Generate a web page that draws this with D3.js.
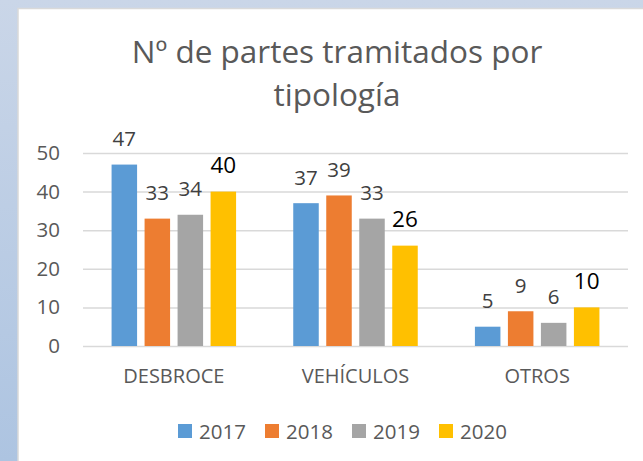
<!DOCTYPE html>
<html>
<head>
<meta charset="utf-8">
<script src="https://cdn.jsdelivr.net/npm/d3@7"></script>
<style>
  body { margin: 0; background: #c9d6e8; }
  #chart { position: absolute; left: 0; top: 0; }
</style>
</head>
<body>
<div id="chart"></div>
<script>
// Set the SVG dimensions
var svgWidth = 643;
var svgHeight = 461;

// Set SVG margins
var margin = {
    top: 153,
    right: 15,
    bottom: 115,
    left: 83
};

var width = svgWidth - margin.left - margin.right;
var height = svgHeight - margin.top - margin.bottom;

var fontFamily = "'Open Sans', Lato, sans-serif";
var textColor = "#595959";

// chart data
var categories = ["DESBROCE", "VEHÍCULOS", "OTROS"];
var years = ["2017", "2018", "2019", "2020"];
var colors = {
    "2017": "#5b9bd5",
    "2018": "#ed7d31",
    "2019": "#a5a5a5",
    "2020": "#ffc000"
};
var partesData = [
    { tipo: "DESBROCE", "2017": 47, "2018": 33, "2019": 34, "2020": 40 },
    { tipo: "VEHÍCULOS", "2017": 37, "2018": 39, "2019": 33, "2020": 26 },
    { tipo: "OTROS", "2017": 5, "2018": 9, "2019": 6, "2020": 10 }
];

var svg = d3
    .select("#chart")
    .append("svg")
    .attr("width", svgWidth)
    .attr("height", svgHeight);

// background frame
var defs = svg.append("defs");
var grad = defs.append("linearGradient")
    .attr("id", "bgGrad")
    .attr("x1", 0).attr("y1", 0).attr("x2", 0).attr("y2", 1);
grad.append("stop").attr("offset", "0%").attr("stop-color", "#cad6e8");
grad.append("stop").attr("offset", "100%").attr("stop-color", "#adc4e1");

svg.append("rect")
    .attr("width", svgWidth)
    .attr("height", svgHeight)
    .attr("fill", "url(#bgGrad)");

svg.append("rect")
    .attr("x", 18)
    .attr("y", 8.5)
    .attr("width", svgWidth)
    .attr("height", svgHeight)
    .attr("fill", "#ffffff")
    .attr("stroke", "#d9d9d9")
    .attr("stroke-width", 1.5);

// title
var title = svg.append("text")
    .attr("text-anchor", "middle")
    .attr("font-family", fontFamily)
    .attr("font-size", "31.5px")
    .attr("fill", textColor);
title.append("tspan").attr("x", 337).attr("y", 63).text("Nº de partes tramitados por");
title.append("tspan").attr("x", 337).attr("y", 106).text("tipología");

var chartGroup = svg.append("g")
    .attr("transform", `translate(${margin.left}, ${margin.top})`);

var x0 = d3.scaleBand()
    .domain(categories)
    .range([0, width]);

var x1 = d3.scaleBand()
    .domain(years)
    .range([0, x0.bandwidth()])
    .paddingInner(0.227)
    .paddingOuter(0.866);

var yLinearScale = d3.scaleLinear()
    .domain([0, 50])
    .range([height, 0]);

// gridlines
var leftAxis = d3.axisLeft(yLinearScale)
    .tickValues([0, 10, 20, 30, 40, 50])
    .tickSize(-width)
    .tickPadding(23);

var yAxis = chartGroup.append("g")
    .call(leftAxis);
yAxis.select(".domain").remove();
yAxis.selectAll("line")
    .attr("stroke", "#d9d9d9")
    .attr("stroke-width", 1.5);
yAxis.selectAll("text")
    .attr("font-family", fontFamily)
    .attr("font-size", "20.5px")
    .attr("fill", textColor);

// category labels
var bottomAxis = d3.axisBottom(x0).tickSize(0).tickPadding(23);
var xAxis = chartGroup.append("g")
    .attr("transform", `translate(0, ${height})`)
    .call(bottomAxis);
xAxis.select(".domain").remove();
xAxis.selectAll("text")
    .attr("font-family", fontFamily)
    .attr("font-size", "20px")
    .attr("fill", textColor);

// bars
var groups = chartGroup.selectAll(".grupo")
    .data(partesData)
    .enter()
    .append("g")
    .attr("class", "grupo")
    .attr("transform", d => `translate(${x0(d.tipo)}, 0)`);

groups.selectAll("rect")
    .data(d => years.map(y => ({ year: y, value: d[y] })))
    .enter()
    .append("rect")
    .attr("x", d => x1(d.year))
    .attr("y", d => yLinearScale(d.value))
    .attr("width", x1.bandwidth())
    .attr("height", d => height - yLinearScale(d.value))
    .attr("fill", d => colors[d.year]);

// value labels
groups.selectAll(".valor")
    .data(d => years.map(y => ({ year: y, value: d[y] })))
    .enter()
    .append("text")
    .attr("class", "valor")
    .attr("x", d => x1(d.year) + x1.bandwidth() / 2)
    .attr("y", d => yLinearScale(d.value) - 18.5)
    .attr("text-anchor", "middle")
    .attr("font-family", fontFamily)
    .attr("font-size", d => d.year === "2020" ? "22.5px" : "20.5px")
    .attr("fill", d => d.year === "2020" ? "#000000" : "#404040")
    .text(d => d.value);

// legend
var legend = svg.append("g")
    .attr("transform", "translate(178, 424)");

var legendItems = legend.selectAll("g")
    .data(years)
    .enter()
    .append("g")
    .attr("transform", (d, i) => `translate(${i * 87}, 0)`);

legendItems.append("rect")
    .attr("width", 14)
    .attr("height", 14)
    .attr("fill", d => colors[d]);

legendItems.append("text")
    .attr("x", 21)
    .attr("y", 15)
    .attr("font-family", fontFamily)
    .attr("font-size", "20.5px")
    .attr("fill", textColor)
    .text(d => d);
</script>
</body>
</html>
